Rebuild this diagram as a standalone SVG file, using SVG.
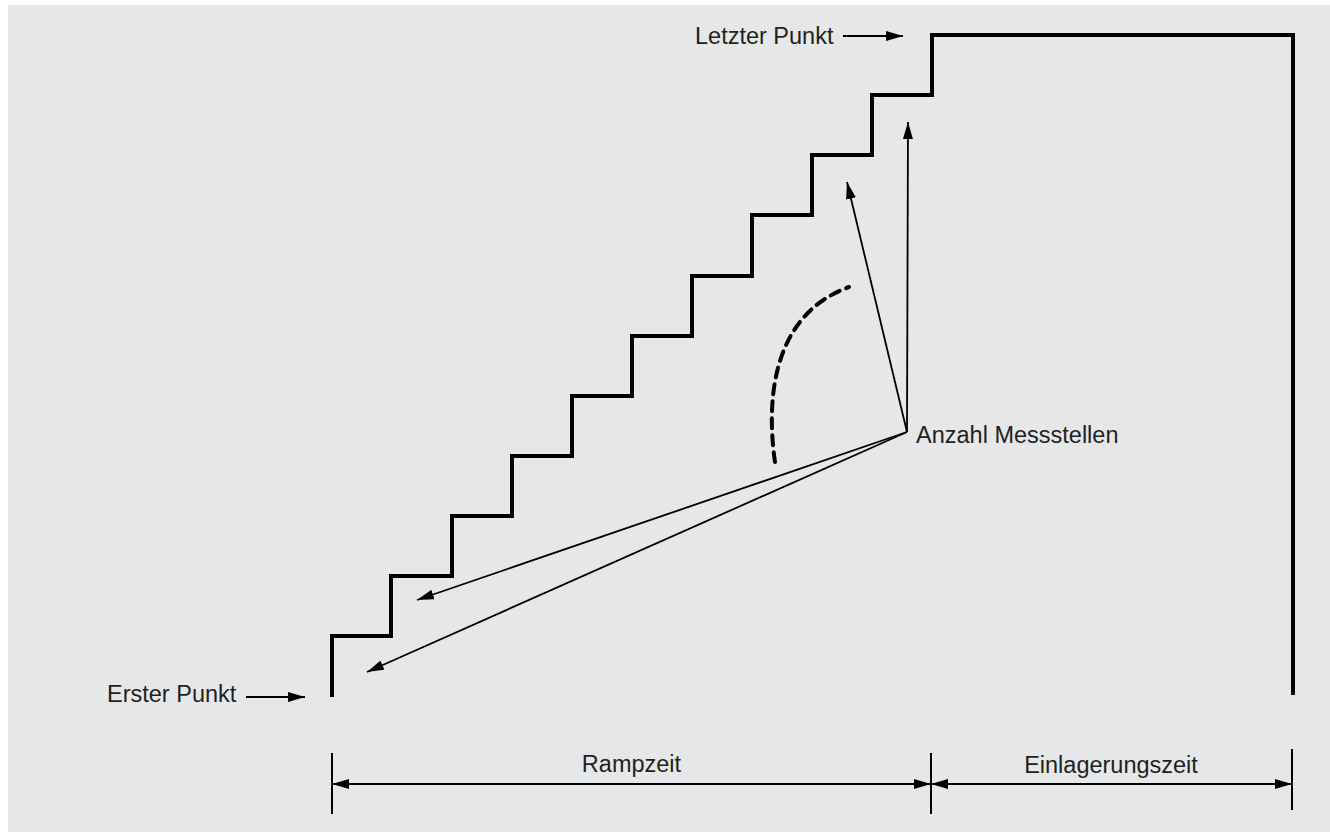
<svg xmlns="http://www.w3.org/2000/svg" width="1330" height="832" viewBox="0 0 1330 832">
  <defs>
    <marker id="ah" markerUnits="userSpaceOnUse" markerWidth="18" markerHeight="10" refX="17" refY="5" orient="auto-start-reverse">
      <path d="M0,0 L17,5 L0,10 Z" fill="#000"/>
    </marker>
    <style>
      .lbl { font-family: "Liberation Sans", Arial, Helvetica, sans-serif; font-size: 23.5px; fill: #231f20; }
      .stair { fill: none; stroke: #000; stroke-width: 4; stroke-linejoin: miter; }
      .thin { fill: none; stroke: #000; stroke-width: 1.8; }
      .arr { marker-end: url(#ah); }
      .dim { fill: none; stroke: #000; stroke-width: 2; }
      .dash { fill: none; stroke: #000; stroke-width: 4; stroke-dasharray: 10 7; stroke-linecap: round; }
    </style>
  </defs>
  <rect x="8" y="5" width="1322" height="827" fill="#e6e7e9"/>

  <g id="staircase">
    <path class="stair" d="M332,697 V636 H391 V576 H452 V516 H512 V456 H572 V396 H632 V336 H692 V276 H752 V215 H812 V155 H872 V95 H932 V35 H1293 V695"/>
  </g>

  <g id="label-erster">
    <text class="lbl" x="107" y="702">Erster Punkt</text>
  </g>
  <g id="label-letzter">
    <text class="lbl" x="695" y="44">Letzter Punkt</text>
  </g>
  <g id="label-anzahl">
    <text class="lbl" x="916" y="443">Anzahl Messstellen</text>
  </g>
  <g id="label-rampzeit">
    <text class="lbl" x="631.5" y="772" text-anchor="middle">Rampzeit</text>
  </g>
  <g id="label-einlagerung">
    <text class="lbl" x="1111" y="773" text-anchor="middle">Einlagerungszeit</text>
  </g>

  <g id="connectors">
    <line class="thin arr" x1="246" y1="697" x2="305" y2="697"/>
    <line class="thin arr" x1="843" y1="36" x2="903" y2="36"/>
    <line class="thin arr" x1="907" y1="432" x2="908" y2="122"/>
    <line class="thin arr" x1="907" y1="432" x2="847" y2="182"/>
    <line class="thin arr" x1="907" y1="432" x2="417" y2="600"/>
    <line class="thin arr" x1="907" y1="432" x2="367" y2="672"/>
    <path class="dash" d="M775,462 C766,400 772,315 849,287"/>
    <line class="dim" x1="332" y1="753" x2="332" y2="814"/>
    <line class="dim" x1="931" y1="753" x2="931" y2="814"/>
    <line class="dim" x1="1292" y1="749" x2="1292" y2="810"/>
    <line class="dim" x1="332" y1="784" x2="931" y2="784" marker-start="url(#ah)" marker-end="url(#ah)"/>
    <line class="dim" x1="931" y1="784" x2="1292" y2="784" marker-start="url(#ah)" marker-end="url(#ah)"/>
  </g>
</svg>
